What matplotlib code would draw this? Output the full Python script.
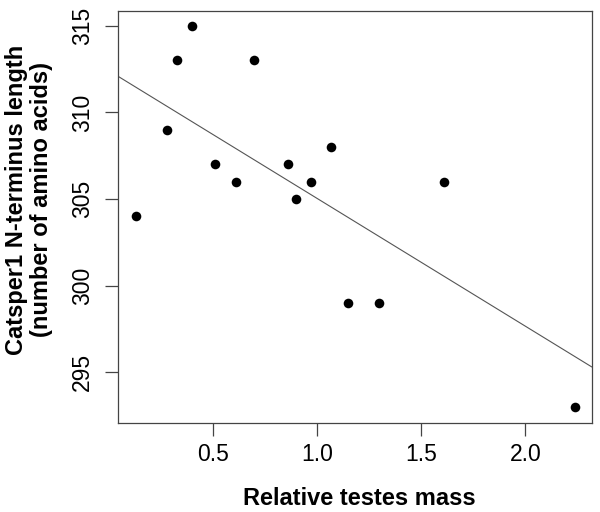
import numpy as np
import matplotlib
matplotlib.use("Agg")
import matplotlib.pyplot as plt

plt.rcParams['font.family'] = ['Liberation Sans', 'DejaVu Sans']

# relative testes mass vs Catsper1 N-terminus length
testes_mass = [0.13, 0.28, 0.33, 0.40, 0.51, 0.61, 0.70, 0.86, 0.90, 0.97,
               1.07, 1.15, 1.30, 1.61, 2.24]
nterm_len = [304, 309, 313, 315, 307, 306, 313, 307, 305, 306,
             308, 299, 299, 306, 293]

x_ticks = [0.5, 1.0, 1.5, 2.0]
y_ticks = [295, 300, 305, 310, 315]

fig = plt.figure(figsize=(6, 5.12), dpi=100)
ax = fig.add_axes([0.197, 0.1732, 0.789, 0.8053])

ax.scatter(testes_mass, nterm_len, s=48, color='black', zorder=3, linewidths=0)

# least squares fit line across the plot region
xlim = (0.047, 2.318)
slope, icpt = np.polyfit(testes_mass, nterm_len, 1)
xs = np.array(xlim)
ax.plot(xs, icpt + slope * xs, color='#555555', lw=0.8)

ax.set_xlim(*xlim)
ax.set_ylim(292.06, 315.85)
ax.set_xticks(x_ticks)
ax.set_xticklabels(['0.5', '1.0', '1.5', '2.0'])
ax.set_yticks(y_ticks)
ax.set_yticklabels([str(v) for v in y_ticks])

for sp in ax.spines.values():
    sp.set_color('#444444')
    sp.set_linewidth(0.9)
ax.tick_params(axis='both', length=9.4, width=0.9, color='#444444', labelsize=16.5)
ax.tick_params(axis='x', pad=5)
ax.tick_params(axis='y', pad=8, labelrotation=90)
for lab in ax.get_yticklabels():
    lab.set_va('center')
    lab.set_ha('right')

fig.text(0.599, 0.027, 'Relative testes mass', ha='center', va='center',
         fontsize=17, fontweight='bold')
fig.text(0.049, 0.61, 'Catsper1 N-terminus length\n(number of amino acids)',
         ha='center', va='center', rotation=90, multialignment='center',
         fontsize=17, fontweight='bold', linespacing=1.12)

fig.savefig('out.png', dpi=100)
